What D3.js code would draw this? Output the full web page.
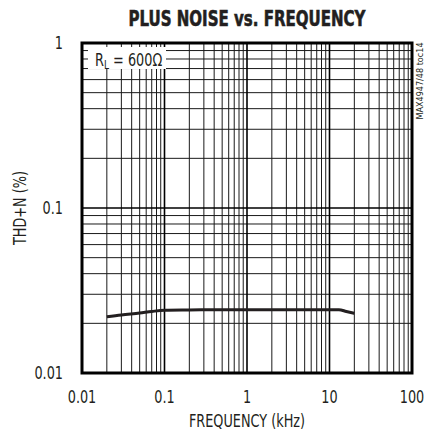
<!DOCTYPE html>
<html><head><meta charset="utf-8">
<script src="https://cdn.jsdelivr.net/npm/d3@7"></script>
<style>
body{margin:0;background:#fff;}
text{font-family:"Liberation Sans Narrow","DejaVu Sans Condensed","Arial Narrow",sans-serif;fill:#231f20;}
</style></head>
<body><svg id="c" width="427" height="445"></svg>
<script>
const freqKHz = [0.02,0.03,0.05,0.07,0.1,0.2,0.5,1,2,5,10,13,16,20];
const thdPct  = [0.0219,0.0225,0.0231,0.0236,0.0240,0.0241,0.0242,0.0242,0.0242,0.0242,0.0242,0.0242,0.0236,0.0230];
const xTickLabels = ["0.01","0.1","1","10","100"];
const xTickValues = [0.01,0.1,1,10,100];
const yTickLabels = ["0.01","0.1","1"];
const yTickValues = [0.01,0.1,1];
const titleText = "PLUS NOISE vs. FREQUENCY";
const xTitle = "FREQUENCY (kHz)";
const yTitle = "THD+N (%)";
const sideNote = "MAX4947/48 toc14";

const svg = d3.select("#c");
const L=82,R=412,T=43,B=373;
const x = d3.scaleLog().domain([0.01,100]).range([L,R]);
const y = d3.scaleLog().domain([0.01,1]).range([B,T]);
const SX = 0.84;

function narrowText(parent, tx, ty, str, size, anchor, rot, sx){
  const gg = parent.append("g").attr("transform",`translate(${tx},${ty})${rot?` rotate(${rot})`:""} scale(${sx||SX},1)`);
  return gg.append("text").attr("text-anchor",anchor).attr("font-size",size).text(str);
}

// grid
const g = svg.append("g");
const minorX=[]; for(let d=0.01; d<100; d*=10){ for(let k=2;k<=9;k++) minorX.push(+(d*k).toPrecision(3)); }
const minorY=[]; for(let d=0.01; d<1; d*=10){ for(let k=2;k<=9;k++) minorY.push(+(d*k).toPrecision(3)); }
g.selectAll(".vx").data(minorX).join("line").attr("x1",d=>x(d)).attr("x2",d=>x(d)).attr("y1",T).attr("y2",B).attr("stroke","#1a1a1a").attr("stroke-width",1);
g.selectAll(".hy").data(minorY).join("line").attr("y1",d=>y(d)).attr("y2",d=>y(d)).attr("x1",L).attr("x2",R).attr("stroke","#1a1a1a").attr("stroke-width",1);
g.selectAll(".vd").data([0.1,1,10]).join("line").attr("x1",d=>x(d)).attr("x2",d=>x(d)).attr("y1",T).attr("y2",B).attr("stroke","#000").attr("stroke-width",1.6);
g.selectAll(".hd").data([0.1]).join("line").attr("y1",d=>y(d)).attr("y2",d=>y(d)).attr("x1",L).attr("x2",R).attr("stroke","#000").attr("stroke-width",1.6);

// legend box
svg.append("rect").attr("x",88).attr("y",47).attr("width",78).attr("height",22).attr("fill","#fff");
const lg = svg.append("g").attr("transform",`translate(95,66) scale(${SX},1)`);
const lt = lg.append("text").attr("font-size",17);
lt.append("tspan").text("R");
lt.append("tspan").attr("font-size",12).attr("dy",3).text("L");
lt.append("tspan").attr("dy",-3).text(" = 600Ω");

// curve
const line = d3.line().x(d=>x(d[0])).y(d=>y(d[1])).curve(d3.curveMonotoneX);
svg.append("path").datum(freqKHz.map((f,i)=>[f,thdPct[i]])).attr("d",line).attr("fill","none").attr("stroke","#231f20").attr("stroke-width",3);

// frame
svg.append("rect").attr("x",L).attr("y",T).attr("width",R-L).attr("height",B-T).attr("fill","none").attr("stroke","#000").attr("stroke-width",3);

// axes labels
xTickValues.forEach((d,i)=>narrowText(svg, x(d), 403, xTickLabels[i], 17, "middle"));
yTickValues.forEach((d,i)=>narrowText(svg, 63, y(d)+6, yTickLabels[i], 17, "end"));
narrowText(svg, 247, 427, xTitle, 17, "middle");
narrowText(svg, 26, 208, yTitle, 17, "middle", -90);
narrowText(svg, 247, 26, titleText, 22, "middle", 0, 0.76)
  .attr("font-weight","bold").attr("stroke","#231f20").attr("stroke-width",0.6);
svg.append("text").attr("transform","translate(423,81) rotate(-90)").attr("text-anchor","middle").attr("font-size",9).text(sideNote);
</script></body></html>
